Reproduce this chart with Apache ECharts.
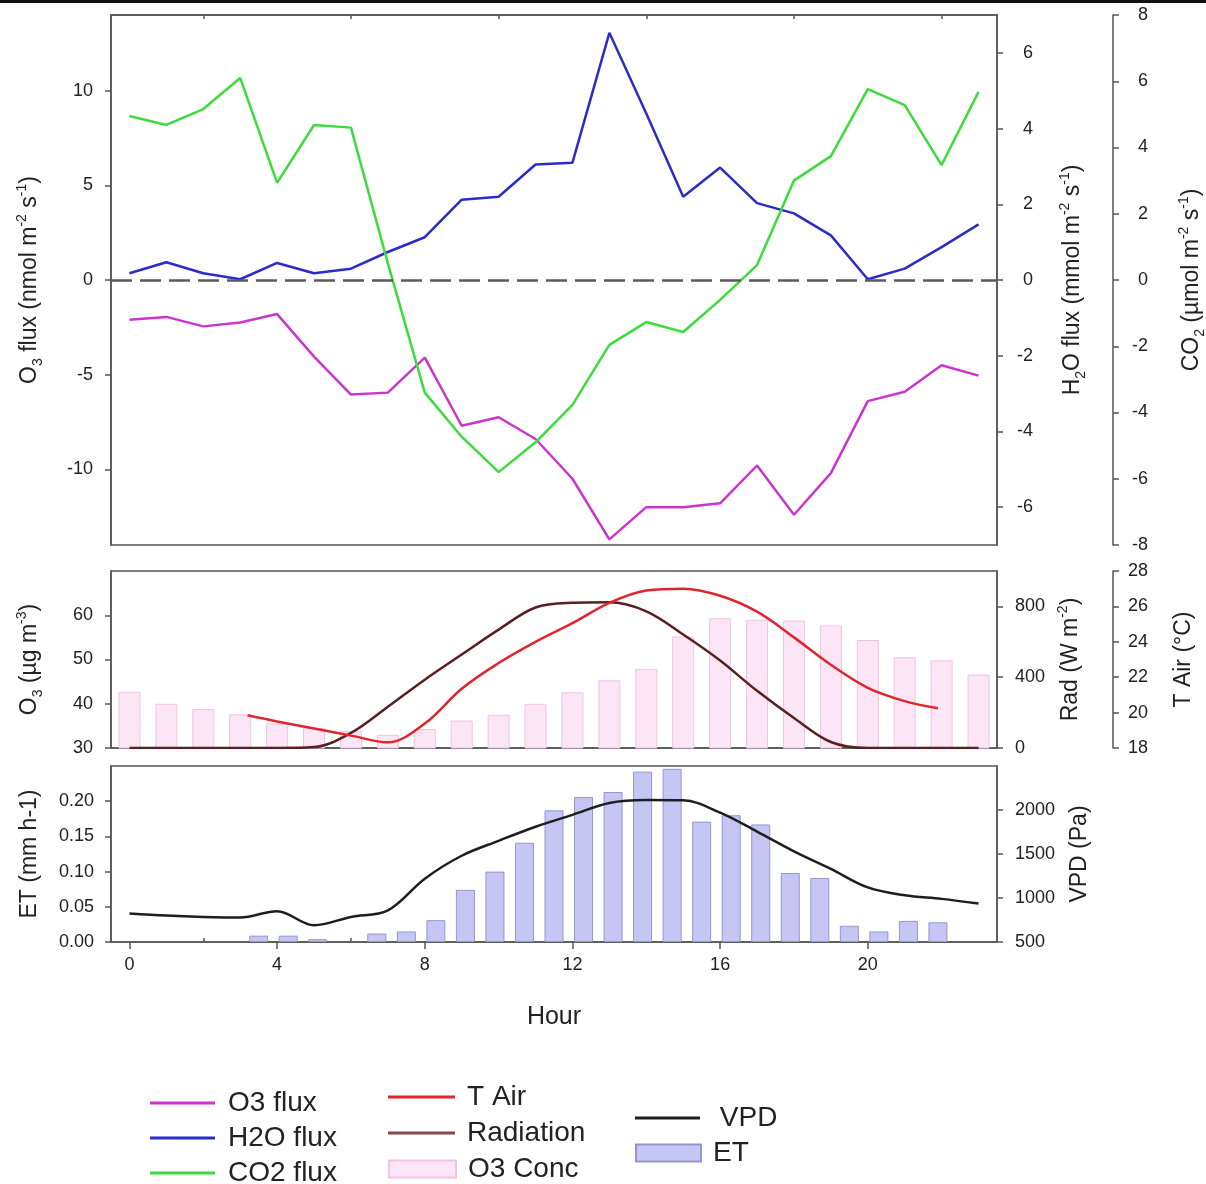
<!DOCTYPE html>
<html>
<head>
<meta charset="utf-8">
<script src="https://cdn.jsdelivr.net/npm/echarts@6/dist/echarts.min.js"></script>
<style>
  html, body { margin: 0; padding: 0; background: #fff; }
  #chart { width: 1206px; height: 1184px; }
</style>
</head>
<body>
<div id="chart"></div>
<script>
// ---- data ----
const hours = [0,1,2,3,4,5,6,7,8,9,10,11,12,13,14,15,16,17,18,19,20,21,22,23];
const o3Flux  = [-2.1,-1.95,-2.45,-2.25,-1.8,-4.05,-6.05,-5.95,-4.1,-7.7,-7.25,-8.4,-10.5,-13.7,-12.0,-12.0,-11.8,-9.8,-12.4,-10.2,-6.4,-5.9,-4.5,-5.05];
const h2oFlux = [0.18,0.47,0.18,0.02,0.45,0.18,0.3,0.74,1.13,2.12,2.2,3.05,3.1,6.53,4.4,2.2,2.97,2.03,1.76,1.18,0.02,0.3,0.87,1.47];
const co2Flux = [4.95,4.68,5.16,6.1,2.93,4.68,4.6,0.5,-3.4,-4.73,-5.8,-4.9,-3.77,-1.96,-1.27,-1.57,-0.6,0.45,3.0,3.74,5.76,5.28,3.47,5.68];
const zeroLine = 0;

const o3Conc    = [42.7,40.0,38.8,37.6,35.5,34.5,33.8,33.0,34.3,36.2,37.5,40.0,42.6,45.3,47.9,55.2,59.3,59.0,58.8,57.7,54.4,50.5,49.8,46.6];
const radiation = [0,0,0,0,0,5,85,233,386,528,669,794,820,823,772,641,494,323,170,34,0,0,0,0];
const tairHours = [3.2,4,5,6,7,8,9,10,11,12,13,14,15,16,17,18,19,20,21,21.9];
const tair      = [19.85,19.5,19.1,18.7,18.32,19.38,21.35,22.8,24.0,25.05,26.2,26.9,27.0,26.6,25.7,24.25,22.7,21.4,20.65,20.25];

const vpd      = [824,800,785,778,850,690,785,860,1220,1480,1650,1810,1945,2080,2113,2110,1970,1755,1530,1330,1120,1030,990,937];
const etHours  = [3.5,4.3,5.1,6.7,7.5,8.3,9.1,9.9,10.7,11.5,12.3,13.1,13.9,14.7,15.5,16.3,17.1,17.9,18.7,19.5,20.3,21.1,21.9];
const etValues = [0.009,0.009,0.004,0.012,0.015,0.031,0.074,0.100,0.141,0.187,0.206,0.213,0.242,0.246,0.171,0.180,0.167,0.098,0.091,0.023,0.015,0.030,0.028];

// ---- tick labels ----
const hourTicks  = [0,4,8,12,16,20];
const hourMinor  = [2,6,10,14,18,22];
const o3FluxTicks = [-10,-5,0,5,10];
const h2oTicks   = [-6,-4,-2,0,2,4,6];
const o3Ticks    = [30,40,50,60];
const radTicks   = [0,400,800];
const etTicks    = [0,0.05,0.10,0.15,0.20];
const vpdTicks   = [500,1000,1500,2000];

const pairs = (xs, ys) => xs.map((x, i) => [x, ys[i]]);

const font = '"Liberation Sans", Arial, sans-serif';
const ink = '#222';
const frame = '#555';
const lbl = { color: ink, fontSize: 18, fontFamily: font };
const rich = {
  n:   { fontSize: 23, fontFamily: font, color: ink, lineHeight: 30 },
  sub: { fontSize: 14, fontFamily: font, color: ink, lineHeight: 14, verticalAlign: 'bottom' },
  sup: { fontSize: 14, fontFamily: font, color: ink, lineHeight: 14, verticalAlign: 'top' }
};
const axLine = { show: true, onZero: false, lineStyle: { color: frame, width: 1.5 } };

function yAx(grid, pos, min, max, ticks, name, gap, extra) {
  return Object.assign({
    type: 'value', gridIndex: grid, position: pos, min: min, max: max,
    axisLine: axLine,
    axisTick: { show: true, customValues: ticks, length: 6, lineStyle: { color: frame, width: 1.5 } },
    axisLabel: Object.assign({ customValues: ticks, margin: 18 }, lbl),
    splitLine: { show: false },
    name: name, nameLocation: 'middle', nameRotate: 90, nameGap: gap,
    nameTextStyle: { rich: rich }
  }, extra || {});
}

function xAx(grid, pos, ticks, inside, labels) {
  return {
    type: 'value', gridIndex: grid, position: pos, min: -0.5, max: 23.5,
    axisLine: axLine,
    axisTick: { show: true, inside: inside, customValues: ticks, length: inside ? 4 : 7, lineStyle: { color: frame, width: 1.5 } },
    axisLabel: labels ? Object.assign({ customValues: ticks, margin: 14 }, lbl) : { show: false },
    splitLine: { show: false }
  };
}

const chart = echarts.init(document.getElementById('chart'));
const gridBox = { show: true, borderColor: frame, borderWidth: 1.5, left: 111, right: 209, containLabel: false, outerBoundsMode: 'none' };

const bottomX = xAx(2, 'bottom', hourTicks, false, true);
bottomX.name = 'Hour';
bottomX.nameLocation = 'middle';
bottomX.nameGap = 63;
bottomX.nameTextStyle = { color: ink, fontSize: 25, fontFamily: font };
const bottomMinor = xAx(2, 'bottom', hourMinor, true, false);
bottomMinor.axisLine = { show: false, onZero: false };

function legendItem(name, left, top, w, h, pad, extra) {
  return Object.assign({
    left: left, top: top, itemWidth: w, itemHeight: h, data: [name],
    selectedMode: false, icon: 'rect',
    textStyle: { color: ink, fontSize: 28, fontFamily: font, padding: [0, 0, 0, pad] }
  }, extra || {});
}

chart.setOption({
  animation: false,
  backgroundColor: '#fff',
  graphic: [{ type: 'rect', left: 0, top: 0, shape: { width: 1206, height: 3 }, style: { fill: '#111' } }],
  grid: [
    Object.assign({ top: 15, height: 530 }, gridBox),
    Object.assign({ top: 571, height: 177 }, gridBox),
    Object.assign({ top: 766, height: 176 }, gridBox)
  ],
  xAxis: [
    xAx(0, 'top', hourMinor, true, false),
    xAx(1, 'bottom', hourMinor, true, false),
    bottomX,
    bottomMinor
  ],
  yAxis: [
    yAx(0, 'left', -14, 14, o3FluxTicks,
      '{n|O}{sub|3}{n| flux (nmol m}{sup|-2}{n| s}{sup|-1}{n|)}', 66),
    yAx(0, 'right', -7, 7, h2oTicks,
      '{n|H}{sub|2}{n|O flux (mmol m}{sup|-2}{n| s}{sup|-1}{n|)}', 61,
      { axisLabel: Object.assign({ customValues: h2oTicks, margin: 36, align: 'right' }, lbl) }),
    yAx(0, 'right', -8, 8, null,
      '{n|CO}{sub|2}{n| (\u00b5mol m}{sup|-2}{n| s}{sup|-1}{n|)}', 64,
      { offset: 116, interval: 2,
        axisTick: { show: true, length: 6, lineStyle: { color: frame, width: 1.5 } },
        axisLabel: Object.assign({ margin: 35, align: 'right' }, lbl) }),
    yAx(1, 'left', 30, 70, o3Ticks,
      '{n|O}{sub|3}{n| (\u00b5g m}{sup|-3}{n|)}', 66),
    yAx(1, 'right', 0, 1000, radTicks,
      '{n|Rad (W m}{sup|-2}{n|)}', 55, {}),
    yAx(1, 'right', 18, 28, null,
      '{n|T Air (\u00b0C)}', 56,
      { offset: 116, interval: 2,
        axisTick: { show: true, length: 6, lineStyle: { color: frame, width: 1.5 } },
        axisLabel: Object.assign({ margin: 15 }, lbl) }),
    yAx(2, 'left', 0, 0.25, etTicks,
      '{n|ET (mm h-1)}', 66,
      { axisLabel: Object.assign({ customValues: etTicks, margin: 17, formatter: v => v.toFixed(2) }, lbl) }),
    yAx(2, 'right', 500, 2500, vpdTicks,
      '{n|VPD (Pa)}', 68,
      { axisLabel: Object.assign({ customValues: vpdTicks, margin: 18, formatter: v => String(v) }, lbl) })
  ],
  legend: [
    legendItem('O3 flux',   145, 1084, 65, 3, 8),
    legendItem('H2O flux',  145, 1119, 65, 3, 8),
    legendItem('CO2 flux',  145, 1154, 65, 3, 8),
    legendItem('T Air',     383, 1078, 67, 3, 7),
    legendItem('Radiation', 383, 1114, 67, 3, 7),
    legendItem('O3 Conc',   383, 1150, 67, 17, 7),
    legendItem('VPD',       630, 1099, 65, 3, 7, { formatter: ' {name}' }),
    legendItem('ET',        630, 1134, 65, 17, 7)
  ],
  series: [
    {
      name: 'O3 flux', type: 'line', xAxisIndex: 0, yAxisIndex: 0,
      data: pairs(hours, o3Flux), showSymbol: false,
      lineStyle: { color: '#cc35cc', width: 2.5 }, itemStyle: { color: '#cc35cc' },
      markLine: {
        silent: true, symbol: 'none', label: { show: false },
        lineStyle: { color: '#5a5a5a', type: [21, 8], width: 2.5 },
        data: [{ yAxis: zeroLine }]
      }
    },
    {
      name: 'H2O flux', type: 'line', xAxisIndex: 0, yAxisIndex: 1,
      data: pairs(hours, h2oFlux), showSymbol: false,
      lineStyle: { color: '#2b2bc8', width: 2.5 }, itemStyle: { color: '#2b2bc8' }
    },
    {
      name: 'CO2 flux', type: 'line', xAxisIndex: 0, yAxisIndex: 2,
      data: pairs(hours, co2Flux), showSymbol: false,
      lineStyle: { color: '#3ddc3d', width: 2.5 }, itemStyle: { color: '#3ddc3d' }
    },
    {
      name: 'O3 Conc', type: 'bar', xAxisIndex: 1, yAxisIndex: 3,
      data: pairs(hours, o3Conc), barWidth: 22,
      itemStyle: { color: '#fce6f6', borderColor: '#efc4e4', borderWidth: 1 }
    },
    {
      name: 'Radiation', type: 'line', xAxisIndex: 1, yAxisIndex: 4,
      data: pairs(hours, radiation), showSymbol: false, smooth: 0.35,
      lineStyle: { color: '#5a1f22', width: 2.5 }, itemStyle: { color: '#8a4646' }
    },
    {
      name: 'T Air', type: 'line', xAxisIndex: 1, yAxisIndex: 5,
      data: pairs(tairHours, tair), showSymbol: false, smooth: 0.35,
      lineStyle: { color: '#e0262c', width: 2.5 }, itemStyle: { color: '#e0262c' }
    },
    {
      name: 'ET', type: 'bar', xAxisIndex: 2, yAxisIndex: 6,
      data: pairs(etHours, etValues), barWidth: 19,
      itemStyle: { color: '#c6c6f5', borderColor: '#9696cc', borderWidth: 1 }
    },
    {
      name: 'VPD', type: 'line', xAxisIndex: 2, yAxisIndex: 7,
      data: pairs(hours, vpd), showSymbol: false, smooth: 0.35,
      lineStyle: { color: '#1e1e1e', width: 2.5 }, itemStyle: { color: '#1e1e1e' }
    }
  ]
});
</script>
</body>
</html>
